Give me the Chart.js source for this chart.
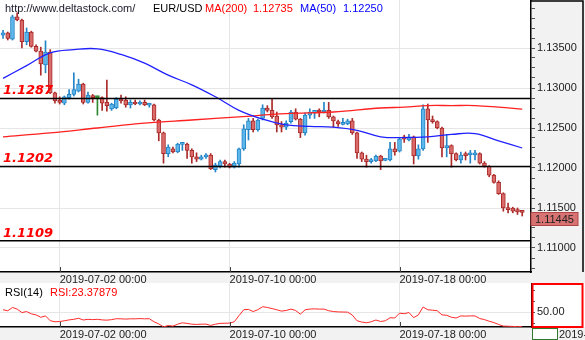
<!DOCTYPE html>
<html>
<head>
<meta charset="utf-8">
<script src="https://cdn.jsdelivr.net/npm/chart.js@4.4.1/dist/chart.umd.min.js"></script>
<style>
  body { margin: 0; background: #fff; }
  #wrap { position: relative; width: 585px; height: 340px; overflow: hidden; font-family: "Liberation Sans", Arial, sans-serif; }
  #priceChart { position: absolute; left: 0; top: 0; }
  #rsiChart { position: absolute; left: 0; top: 283px; }
  .txt { position: absolute; font-size: 11px; line-height: 12px; white-space: nowrap; }
</style>
</head>
<body>
<div id="wrap">
  <canvas id="priceChart" width="585" height="283"></canvas>
  <canvas id="rsiChart" width="585" height="57"></canvas>
  <div class="txt" style="left:5px;top:2px;color:#1a1a2a">http://www.deltastock.com/</div>
  <div class="txt" style="left:153px;top:2px;color:#000">EUR/USD</div>
  <div class="txt" style="left:205px;top:2px;color:#ff0000">MA(200)</div>
  <div class="txt" id="ma200Text" style="left:253px;top:2px;color:#ff0000"></div>
  <div class="txt" style="left:300px;top:2px;color:#0000ff">MA(50)</div>
  <div class="txt" id="ma50Text" style="left:343px;top:2px;color:#0000ff"></div>
  <div class="txt" style="left:5px;top:286px;color:#000">RSI(14)</div>
  <div class="txt" id="rsiText" style="left:50px;top:286px;color:#ff0000"></div>
</div>
<script>
// EUR/USD 4h candles, 2019-06-28 00:00 onwards
const candleOpen = [
  1.1366, 1.1369, 1.1361, 1.1389, 1.1385, 1.1358, 1.1370, 1.1352, 1.1346, 1.1329,
  1.1345, 1.1294, 1.1285, 1.1281, 1.1288, 1.1292, 1.1296, 1.1305, 1.1282, 1.1290,
  1.1288, 1.1288, 1.1282, 1.1274, 1.1275, 1.1286, 1.1285, 1.1279, 1.1282, 1.1280,
  1.1282, 1.12785, 1.1279, 1.1260, 1.1244, 1.1218, 1.1224, 1.1220, 1.12295, 1.1230,
  1.1222, 1.1214, 1.1211, 1.1214, 1.1216, 1.1198, 1.1202, 1.1208, 1.1205, 1.1201,
  1.1205, 1.1224, 1.1248, 1.1259, 1.1248, 1.1262, 1.1275, 1.1272, 1.1265, 1.1254,
  1.1251, 1.1258, 1.1270, 1.1261, 1.1244, 1.1266, 1.1269, 1.1272, 1.1270, 1.1272,
  1.1264, 1.1258, 1.12545, 1.1255, 1.1259, 1.1244, 1.1219, 1.1211, 1.1208, 1.1209,
  1.1215, 1.12095, 1.1210, 1.1224, 1.1221, 1.1239, 1.1235, 1.1239, 1.1215, 1.1224,
  1.1274, 1.1260, 1.1258, 1.1250, 1.1225, 1.1228, 1.1218, 1.1210, 1.1216, 1.12165,
  1.12165, 1.1218, 1.1206, 1.1202, 1.1191, 1.1182, 1.1168, 1.1150, 1.1150, 1.1148,
  1.1145,
];
const candleHigh = [
  1.1372, 1.1370, 1.1391, 1.1394, 1.1386, 1.1375, 1.1371, 1.1354, 1.1351, 1.1359,
  1.1348, 1.1295, 1.1289, 1.1290, 1.1298, 1.1319, 1.1311, 1.1306, 1.1295, 1.1292,
  1.1289, 1.1289, 1.1310, 1.1281, 1.1288, 1.1291, 1.1289, 1.1285, 1.1285, 1.1284,
  1.1285, 1.1281, 1.1280, 1.1261, 1.1245, 1.1229, 1.1226, 1.1231, 1.1232, 1.1231,
  1.1224, 1.1219, 1.1216, 1.1218, 1.1218, 1.1206, 1.1210, 1.1210, 1.1206, 1.1208,
  1.1225, 1.1254, 1.1262, 1.1262, 1.1261, 1.1279, 1.1278, 1.1286, 1.1270, 1.1258,
  1.1259, 1.1272, 1.1274, 1.1262, 1.1269, 1.1274, 1.1272, 1.1274, 1.1282, 1.1282,
  1.1265, 1.1260, 1.1262, 1.1261, 1.1262, 1.1245, 1.1220, 1.1216, 1.1212, 1.1216,
  1.1216, 1.1211, 1.1232, 1.1232, 1.1238, 1.1241, 1.1242, 1.1240, 1.1229, 1.1279,
  1.1280, 1.1265, 1.1259, 1.1251, 1.1242, 1.1229, 1.1219, 1.1220, 1.1220, 1.1222,
  1.1222, 1.1219, 1.1208, 1.1203, 1.1192, 1.1184, 1.1169, 1.1156, 1.1151, 1.1150,
  1.1146,
];
const candleLow = [
  1.1362, 1.1360, 1.1360, 1.1384, 1.1350, 1.1354, 1.1351, 1.1345, 1.1316, 1.1319,
  1.1293, 1.1281, 1.1280, 1.1279, 1.1286, 1.1290, 1.1295, 1.1280, 1.1281, 1.1282,
  1.1266, 1.1272, 1.1271, 1.1272, 1.1274, 1.1281, 1.1276, 1.1275, 1.1279, 1.1279,
  1.1278, 1.1276, 1.1259, 1.1234, 1.1206, 1.1214, 1.1219, 1.1219, 1.1222, 1.1212,
  1.1206, 1.1208, 1.1210, 1.1212, 1.1198, 1.1195, 1.1200, 1.1201, 1.1200, 1.1200,
  1.1201, 1.1222, 1.1235, 1.1245, 1.1246, 1.1260, 1.1270, 1.1262, 1.1245, 1.1245,
  1.1248, 1.1256, 1.1260, 1.1238, 1.1241, 1.1262, 1.1262, 1.1264, 1.1269, 1.1262,
  1.1251, 1.1252, 1.1254, 1.1254, 1.1242, 1.1212, 1.1208, 1.1201, 1.1206, 1.1208,
  1.1198, 1.1209, 1.1209, 1.1216, 1.1220, 1.1232, 1.1234, 1.1205, 1.1211, 1.1222,
  1.1232, 1.1256, 1.1249, 1.1214, 1.1214, 1.1201, 1.1209, 1.1206, 1.1210, 1.1206,
  1.1210, 1.1205, 1.1201, 1.1189, 1.1181, 1.1167, 1.1146, 1.1144, 1.1144, 1.1142,
  1.1140,
];
const candleClose = [
  1.1369, 1.1362, 1.1389, 1.1385, 1.1358, 1.1370, 1.1352, 1.1346, 1.1330, 1.1345,
  1.1294, 1.1284, 1.1282, 1.1289, 1.1292, 1.1298, 1.1305, 1.1282, 1.1291, 1.1288,
  1.1288, 1.1281, 1.1278, 1.1280, 1.1286, 1.1284, 1.1279, 1.1282, 1.1280, 1.1282,
  1.1279, 1.1279, 1.1260, 1.1244, 1.1218, 1.1226, 1.1220, 1.1230, 1.1230, 1.1222,
  1.1214, 1.1211, 1.1214, 1.1216, 1.1199, 1.1204, 1.1208, 1.1205, 1.1201, 1.1206,
  1.1224, 1.1249, 1.1259, 1.1248, 1.1260, 1.1275, 1.1272, 1.1264, 1.1254, 1.1251,
  1.1256, 1.1270, 1.1261, 1.1244, 1.1266, 1.1270, 1.1272, 1.1270, 1.1272, 1.1264,
  1.1259, 1.1255, 1.1255, 1.1259, 1.1244, 1.1219, 1.1211, 1.1208, 1.1210, 1.1215,
  1.1209, 1.1210, 1.1224, 1.1220, 1.1236, 1.1236, 1.1239, 1.1215, 1.1224, 1.1274,
  1.1260, 1.1258, 1.1250, 1.1225, 1.1228, 1.1218, 1.1210, 1.1216, 1.12155, 1.1217,
  1.1217, 1.1206, 1.1202, 1.1191, 1.1182, 1.1168, 1.1150, 1.1148, 1.1146, 1.1145,
  1.11445,
];

// moving averages, sampled by candle index
const ma50At = [0, 5, 10, 15, 20, 25, 30, 35, 40, 45, 50, 55, 60, 65, 70, 75, 80, 85, 90, 95, 100, 105, 110];
const ma50 = [1.1312, 1.1328, 1.1344, 1.1348, 1.1349, 1.1342, 1.1331, 1.1316, 1.1304, 1.1289, 1.1272, 1.1261,
  1.1254, 1.1252, 1.1251, 1.1247, 1.1239, 1.1238, 1.1239, 1.1242, 1.1243, 1.1234, 1.1225];
const ma200At = [0, 10, 20, 30, 40, 50, 60, 70, 80, 85, 90, 95, 100, 105, 110];
const ma200 = [1.1239, 1.1244, 1.1250, 1.1256, 1.1260, 1.1264, 1.1268, 1.1270, 1.1275, 1.1276, 1.1278, 1.1278,
  1.1278, 1.1276, 1.12735];

const rsi14 = [
  54.8, 52.9, 59.0, 56.0, 49.6, 51.5, 47.2, 45.3, 40.9, 43.4,
  34.5, 32.5, 33.0, 34.4, 36.0, 37.1, 39.0, 35.8, 37.1, 36.5,
  37.1, 36.0, 35.5, 36.5, 38.2, 38.0, 37.5, 38.0, 38.0, 38.4,
  38.0, 38.2, 32.5, 28.5, 23.0, 25.5, 24.4, 28.0, 30.6, 29.5,
  28.0, 27.6, 28.0, 28.2, 25.7, 28.0, 29.5, 29.8, 30.0, 32.5,
  44.0, 54.8, 55.5, 51.5, 55.0, 60.5, 59.1, 57.0, 54.8, 52.3,
  53.5, 56.1, 53.4, 46.6, 54.8, 56.1, 56.5, 56.0, 56.1, 53.0,
  51.5, 50.8, 50.6, 50.4, 45.0, 34.4, 32.0, 30.6, 32.5, 35.8,
  33.0, 34.4, 40.0, 39.5, 48.5, 47.5, 49.6, 40.1, 45.3, 59.9,
  54.8, 54.0, 53.0, 45.3, 44.5, 40.9, 39.5, 43.4, 43.0, 43.4,
  43.4, 38.5, 36.5, 33.5, 31.0, 27.5, 24.4, 24.2, 23.8, 23.6,
  23.37879,
];

const dateTickAt = [12, 48, 84];
const dateTickText = ["2019-07-02 00:00", "2019-07-10 00:00", "2019-07-18 00:00"];
const priceLabels = [1.11, 1.115, 1.12, 1.125, 1.13, 1.135];
const levels = [1.1287, 1.1202, 1.1109];
const rsiTicks = [30, 50, 70, 90];
const rsiLabels = [50];

const upFill = "#5db7ea", upLine = "#2484c6";
const downFill = "#d96b6b", downLine = "#ab2a2a";
const flatLine = "#2f8a2f";

const dir = candleClose.map((c, i) => Math.sign(c - candleOpen[i]));
const bodyFill = dir.map((d) => (d > 0 ? upFill : d < 0 ? downFill : flatLine));
const bodyLine = dir.map((d) => (d > 0 ? upLine : d < 0 ? downLine : flatLine));

const xMin = -0.64;
const xMax = 111.86;
const fontFamily = '"Liberation Sans", Arial, sans-serif';

Chart.defaults.font.family = fontFamily;

document.getElementById("ma200Text").textContent = ma200[ma200.length - 1].toFixed(5);
document.getElementById("ma50Text").textContent = ma50[ma50.length - 1].toFixed(5);
document.getElementById("rsiText").textContent = "RSI:" + rsi14[rsi14.length - 1].toFixed(5);

const isLabel = (list, v) => list.some((p) => Math.abs(p - v) < 1e-7);

function dateAxis(stripHeight) {
  return {
    type: "linear",
    min: xMin,
    max: xMax,
    offset: false,
    afterBuildTicks: (scale) => {
      scale.ticks = dateTickAt.map((v) => ({ value: v }));
    },
    afterFit: (scale) => {
      scale.height = stripHeight;
      scale.paddingLeft = 0;
      scale.paddingRight = 0;
    },
    grid: { color: "#e6e6e6", drawTicks: false, offset: false },
    border: { color: "#000", width: 1.5 },
    ticks: {
      autoSkip: false,
      maxRotation: 0,
      align: "start",
      padding: 1,
      color: "#222",
      font: { size: 11 },
      callback: (v, i) => dateTickText[i],
    },
  };
}

function valueAxisFit(scale) {
  scale.width = 54;
  scale.paddingTop = 0;
  scale.paddingBottom = 0;
}

// white plot, grey axis strips, marker ticks on the date axis
function panelBackground(rightFill) {
  return {
    id: "panelBackground",
    beforeDraw(chart) {
      const { ctx, chartArea: a, width, height } = chart;
      ctx.save();
      ctx.fillStyle = "#fff";
      ctx.fillRect(0, 0, width, height);
      ctx.fillStyle = "#f2f2f2";
      ctx.fillRect(0, a.bottom, width, height - a.bottom);
      ctx.fillStyle = rightFill;
      ctx.fillRect(a.right, 0, width - a.right, a.bottom);
      ctx.restore();
    },
    afterDraw(chart) {
      const { ctx, chartArea: a } = chart;
      const xs = chart.scales.x;
      ctx.save();
      ctx.strokeStyle = "#444";
      ctx.lineWidth = 1;
      dateTickAt.forEach((v) => {
        const x = Math.round(xs.getPixelForValue(v)) + 0.5;
        ctx.beginPath();
        ctx.moveTo(x, a.bottom - 5);
        ctx.lineTo(x, a.bottom);
        ctx.stroke();
      });
      ctx.restore();
    },
  };
}

const priceExtras = {
  id: "priceExtras",
  afterDatasetsDraw(chart) {
    const { ctx, chartArea: a } = chart;
    const ys = chart.scales.y;
    ctx.save();
    levels.forEach((v) => {
      const y = ys.getPixelForValue(v);
      ctx.strokeStyle = "#000";
      ctx.lineWidth = 1.5;
      ctx.beginPath();
      ctx.moveTo(a.left, y);
      ctx.lineTo(a.right, y);
      ctx.stroke();
      ctx.fillStyle = "#ff0000";
      ctx.font = "italic bold 13px 'DejaVu Sans'";
      ctx.textBaseline = "alphabetic";
      ctx.textAlign = "left";
      ctx.fillText(v.toFixed(4), a.left + 3, y - 4);
    });
    ctx.restore();
  },
  afterDraw(chart) {
    const { ctx, chartArea: a, width } = chart;
    const ys = chart.scales.y;
    ctx.save();
    // frame of the price axis
    ctx.strokeStyle = "#000";
    ctx.lineWidth = 1.5;
    ctx.beginPath();
    ctx.moveTo(a.right, 1);
    ctx.lineTo(width - 2, 1);
    ctx.lineTo(width - 2, a.bottom);
    ctx.stroke();
    // last price marker
    const last = candleClose[candleClose.length - 1];
    const top = Math.round(ys.getPixelForValue(last)) + 0.5;
    ctx.fillStyle = "#d87373";
    ctx.fillRect(a.right, top, 47, 13);
    ctx.strokeStyle = "#b24545";
    ctx.lineWidth = 1;
    ctx.strokeRect(a.right, top, 47, 13);
    ctx.fillStyle = "#222";
    ctx.font = "11px " + fontFamily;
    ctx.textBaseline = "middle";
    ctx.fillText(last.toFixed(5), a.right + 4, top + 7);
    ctx.restore();
  },
};

new Chart(document.getElementById("priceChart"), {
  type: "bar",
  data: {
    datasets: [
      {
        type: "line",
        label: "MA(50)",
        data: ma50At.map((x, k) => ({ x, y: ma50[k] })),
        borderColor: "#2020ff",
        borderWidth: 1.3,
        pointRadius: 0,
        tension: 0.4,
        order: 1,
      },
      {
        type: "line",
        label: "MA(200)",
        data: ma200At.map((x, k) => ({ x, y: ma200[k] })),
        borderColor: "#ff2020",
        borderWidth: 1.3,
        pointRadius: 0,
        tension: 0.4,
        order: 1,
      },
      {
        label: "body",
        data: candleOpen.map((o, i) => ({ x: i, y: [o, candleClose[i]] })),
        backgroundColor: bodyFill,
        borderColor: bodyLine,
        borderWidth: 1,
        borderSkipped: false,
        barThickness: 4,
        minBarLength: 2,
        grouped: false,
        order: 2,
      },
      {
        label: "wick",
        data: candleLow.map((l, i) => ({ x: i, y: [l, candleHigh[i]] })),
        backgroundColor: bodyLine,
        barThickness: 1,
        grouped: false,
        order: 3,
      },
    ],
  },
  options: {
    responsive: false,
    animation: false,
    devicePixelRatio: 1,
    layout: { padding: 0 },
    plugins: { legend: { display: false }, tooltip: { enabled: false } },
    scales: {
      x: dateAxis(11),
      y: {
        position: "right",
        min: 1.107,
        max: 1.141,
        afterBuildTicks: (scale) => {
          const ticks = [];
          for (let k = 0; k <= 26; k++) ticks.push({ value: +(1.1075 + k * 0.00125).toFixed(5) });
          scale.ticks = ticks;
        },
        afterFit: valueAxisFit,
        grid: {
          color: (c) => (isLabel(priceLabels, c.tick.value) ? "#e6e6e6" : "rgba(0,0,0,0)"),
          tickColor: "#555",
          tickLength: 4,
        },
        border: { color: "#000", width: 1.5 },
        ticks: {
          autoSkip: false,
          padding: 2,
          color: "#222",
          font: { size: 11 },
          callback: (v) => (isLabel(priceLabels, v) ? v.toFixed(5) : ""),
        },
      },
    },
  },
  plugins: [panelBackground("#f2f2f2"), priceExtras],
});

const rsiExtras = {
  id: "rsiExtras",
  afterDraw(chart) {
    const { ctx, chartArea: a, width, height } = chart;
    ctx.save();
    ctx.strokeStyle = "#ff0000";
    ctx.lineWidth = 2;
    ctx.strokeRect(a.right + 1.5, 1, width - a.right - 4, a.bottom - 1);
    ctx.fillStyle = "#fff";
    ctx.fillRect(a.right + 1, a.bottom + 1, 25, height - a.bottom - 1);
    ctx.strokeStyle = "#2f7a2f";
    ctx.lineWidth = 1;
    ctx.strokeRect(a.right + 1.5, a.bottom + 1.5, 25, height - a.bottom - 2);
    ctx.fillStyle = "#222";
    ctx.font = "11px " + fontFamily;
    ctx.textBaseline = "top";
    ctx.fillText("2019-", a.right + 28, a.bottom + 2);
    ctx.restore();
  },
};

new Chart(document.getElementById("rsiChart"), {
  type: "line",
  data: {
    datasets: [
      {
        label: "RSI",
        data: rsi14.map((y, x) => ({ x, y })),
        borderColor: "#ff2a2a",
        borderWidth: 1,
        pointRadius: 0,
        tension: 0,
      },
    ],
  },
  options: {
    responsive: false,
    animation: false,
    devicePixelRatio: 1,
    layout: { padding: 0 },
    plugins: { legend: { display: false }, tooltip: { enabled: false } },
    scales: {
      x: dateAxis(13),
      y: {
        position: "right",
        min: 22.8,
        max: 104.5,
        afterBuildTicks: (scale) => {
          scale.ticks = rsiTicks.map((v) => ({ value: v }));
        },
        afterFit: valueAxisFit,
        grid: {
          color: (c) => (isLabel(rsiLabels, c.tick.value) ? "#e6e6e6" : "rgba(0,0,0,0)"),
          tickColor: "#555",
          tickLength: 4,
        },
        border: { color: "#000", width: 1 },
        ticks: {
          autoSkip: false,
          padding: 2,
          color: "#222",
          font: { size: 11 },
          callback: (v) => (isLabel(rsiLabels, v) ? v.toFixed(2) : ""),
        },
      },
    },
  },
  plugins: [panelBackground("#fff"), rsiExtras],
});
</script>
</body>
</html>
